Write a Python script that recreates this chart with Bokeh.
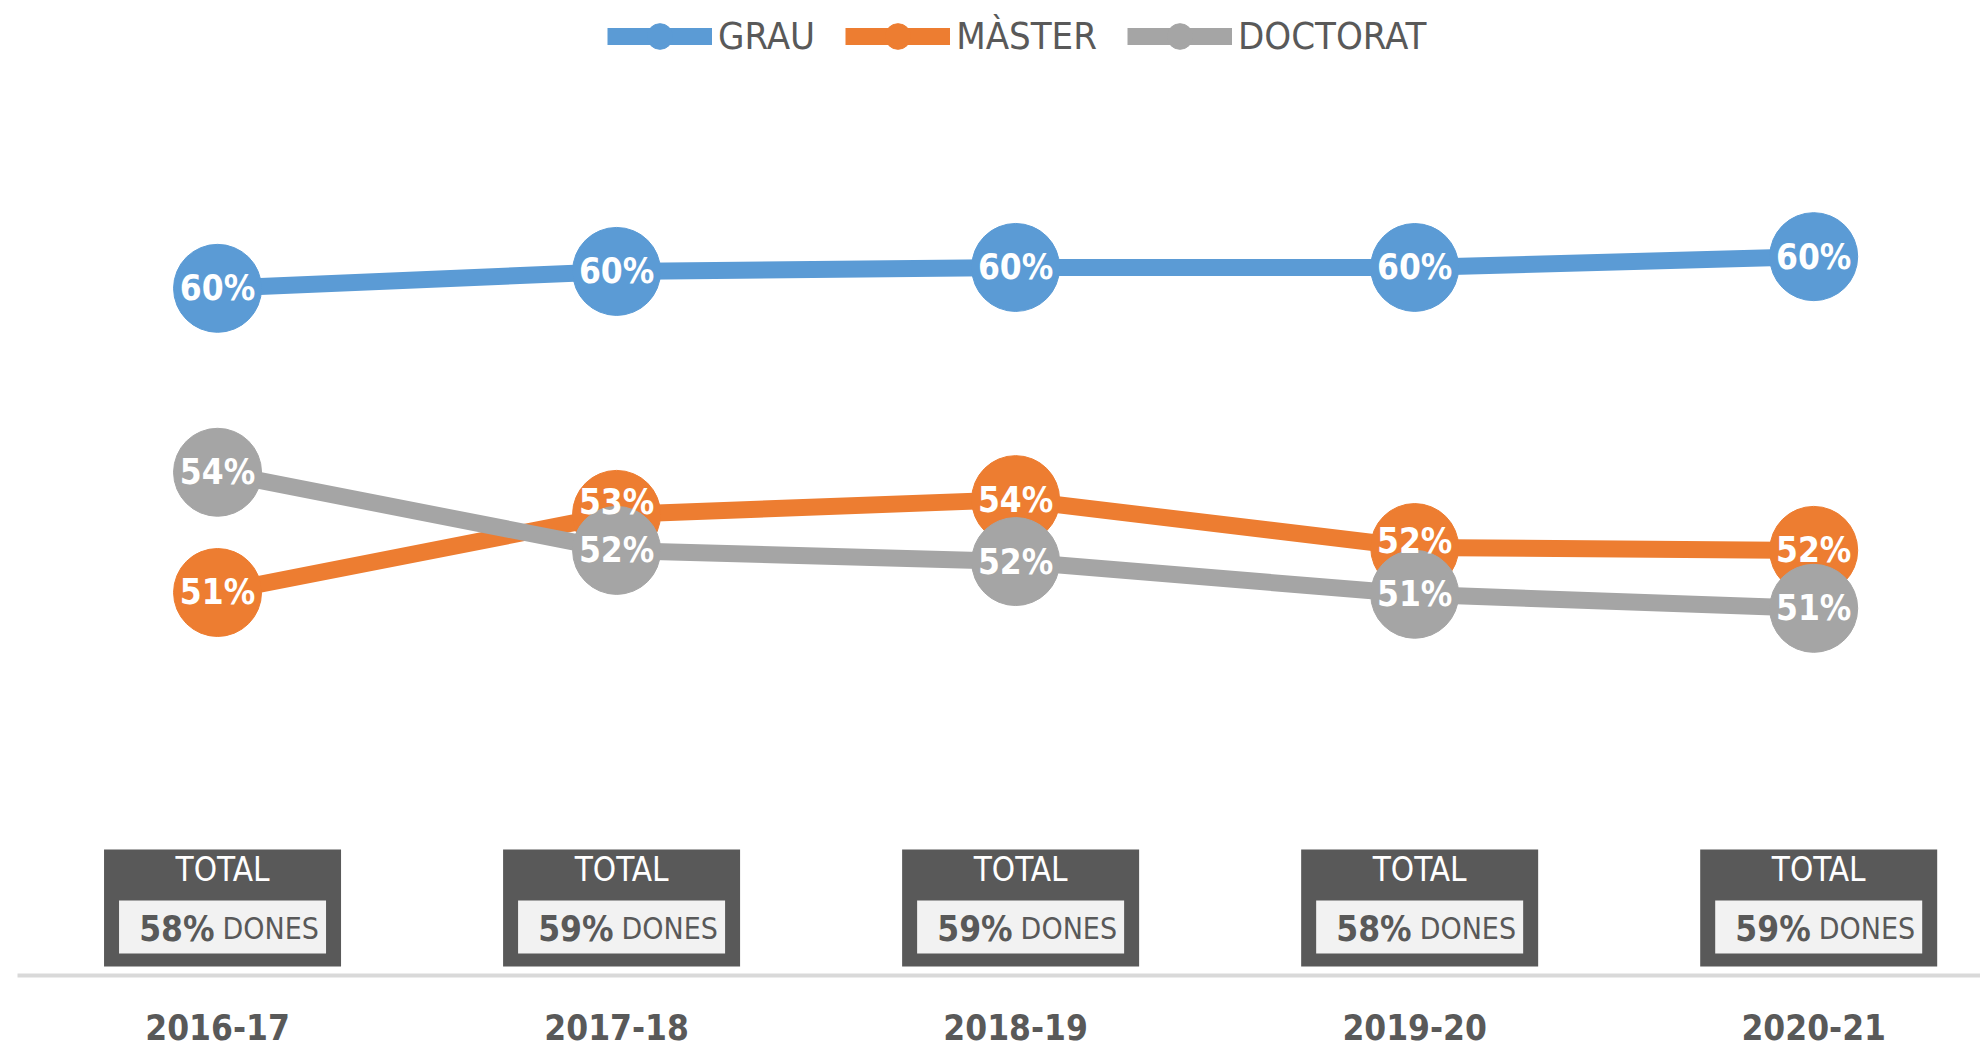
from bokeh.plotting import figure
from bokeh.models import (Range1d, FixedTicker, ColumnDataSource, Legend, LegendItem)
from bokeh.transform import dodge
from bokeh.core.properties import value
from bokeh.embed import file_html
from bokeh.resources import INLINE

# ---------------- data ----------------
years = ["2016-17", "2017-18", "2018-19", "2019-20", "2020-21"]
grau = [59.56, 60.03, 60.14, 60.14, 60.44]
master = [51.11, 53.28, 53.69, 52.36, 52.28]
doctorat = [54.45, 52.28, 51.97, 51.06, 50.67]
total_dones = [58, 59, 59, 58, 59]
series_names = ["GRAU", "MÀSTER", "DOCTORAT"]

# ---------------- style ----------------
colors = ["#5B9BD5", "#ED7D31", "#A5A5A5"]
FONT = "DejaVu Sans Condensed, Roboto"
DARK = "#595959"
label_nudge = {"GRAU": [0, 0, 0, 0, 0],
               "MÀSTER": [0, -12, 0, -7, 0],
               "DOCTORAT": [0, 0, 0, 0, 0]}

W, H = 1980, 1050
FRAME_H = 975
LEFT = 17

p = figure(width=W, height=H, output_backend="svg", toolbar_location=None,
           x_range=Range1d(-0.5013, 4.418), y_range=Range1d(40.47, 67.556),
           y_axis_location=None,
           min_border_left=LEFT, min_border_right=0, min_border_top=0,
           min_border_bottom=H - FRAME_H)
p.outline_line_color = None
p.grid.visible = False
p.background_fill_color = "white"
p.border_fill_color = "white"

xs = list(range(len(years)))
ax = p.xaxis[0]
ax.ticker = FixedTicker(ticks=xs)
ax.major_label_overrides = {i: y for i, y in enumerate(years)}
ax.axis_line_color = "#D9D9D9"
ax.axis_line_width = 4
ax.major_tick_line_color = None
ax.minor_tick_line_color = None
ax.major_label_text_font = FONT
ax.major_label_text_font_size = "35px"
ax.major_label_text_font_style = "bold"
ax.major_label_text_color = DARK
ax.major_label_standoff = 32

# ---------------- series ----------------
items = []
for name, vals, col in zip(series_names, [grau, master, doctorat], colors):
    src = ColumnDataSource(dict(x=xs, y=vals,
                                lbl=[f"{round(v)}%" for v in vals],
                                dy=label_nudge[name]))
    lr = p.line("x", "y", source=src, line_color=col, line_width=17)
    sr = p.scatter("x", "y", source=src, size=88, fill_color=col,
                   line_color=col, marker="circle")
    items.append((name, [lr, sr], src))

for name, rs, src in items:
    p.text("x", "y", text="lbl", source=src, y_offset="dy",
           text_font=value(FONT), text_font_style="bold",
           text_font_size="35px", text_color="white",
           text_align="center", text_baseline="middle")

legend = Legend(items=[LegendItem(label=n, renderers=rs) for n, rs, _ in items],
                orientation="horizontal", location=(590, FRAME_H - 68),
                glyph_width=105, glyph_height=64, label_standoff=6,
                spacing=30, padding=0, margin=0,
                label_text_font=FONT, label_text_font_size="38px",
                label_text_color=DARK, label_text_baseline="middle",
                border_line_alpha=0, background_fill_alpha=0)
p.add_layout(legend, "center")

# ---------------- total boxes ----------------
p.extra_y_ranges = {"px": Range1d(start=FRAME_H, end=0)}
tsrc = ColumnDataSource(dict(x=xs, pct=[f"{v}%" for v in total_dones],
                             tot=["TOTAL"] * len(xs), dones=["DONES"] * len(xs)))
bx = dodge("x", 5 / 399)
p.rect(x=bx, y=907.5, width=237, height=117, width_units="screen",
       source=tsrc, y_range_name="px", fill_color=DARK, line_color=None)
p.rect(x=bx, y=926.5, width=207, height=53, width_units="screen",
       source=tsrc, y_range_name="px", fill_color="#F2F2F2", line_color=None)
p.text(x=bx, y=869, text="tot", source=tsrc, y_range_name="px",
       text_font=value(FONT), text_font_size="33px", text_color="white",
       text_align="center", text_baseline="middle")
p.text(x=bx, y=928, text="pct", source=tsrc, y_range_name="px", x_offset=-8,
       text_font=value(FONT), text_font_style="bold", text_font_size="35px",
       text_color=DARK, text_align="right", text_baseline="middle")
p.text(x=bx, y=928, text="dones", source=tsrc, y_range_name="px", x_offset=0,
       text_font=value(FONT), text_font_size="30px", text_color=DARK,
       text_align="left", text_baseline="middle")

open("out.html", "w").write(file_html(p, INLINE))
